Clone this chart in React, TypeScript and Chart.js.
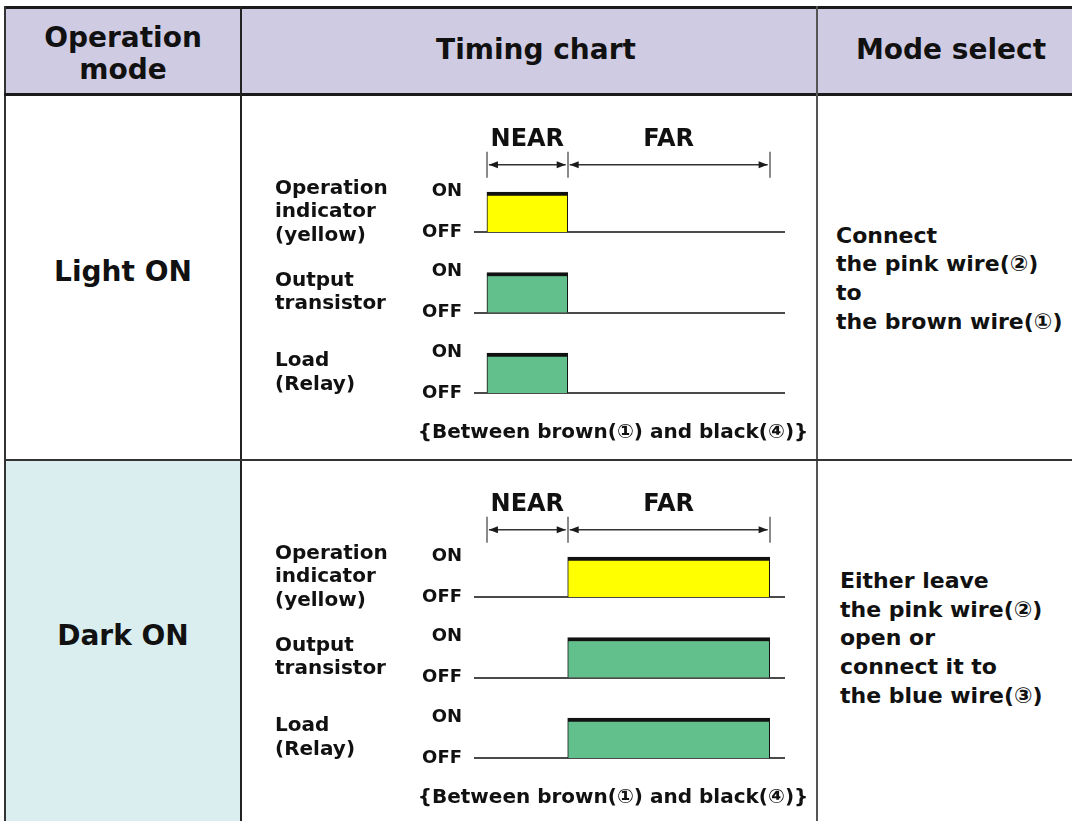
import React, { useEffect, useRef } from "react";
import { Chart, registerables } from "chart.js";

Chart.register(...registerables);

// ---- data ----
const headerLabels = ["Operation\nmode", "Timing chart", "Mode select"];
const modeLabels = ["Light ON", "Dark ON"];
const signalNames = [["Operation", "indicator", "(yellow)"], ["Output", "transistor"], ["Load", "(Relay)"]];
const stateLabels = ["ON", "OFF"];
const zoneLabels = ["NEAR", "FAR"];
const zoneBounds = [0, 1, 3.5];
const lightOnSpans = [[0, 1], [0, 1], [0, 1]];
const darkOnSpans = [[1, 3.5], [1, 3.5], [1, 3.5]];
const noteText = "{Between brown(①) and black(④)}";
const lightOnSelect = ["Connect", "the pink wire(②)", "to", "the brown wire(①)"];
const darkOnSelect = ["Either leave", "the pink wire(②)", "open or", "connect it to", "the blue wire(③)"];
const signalColors = ["#ffff00", "#62c08c", "#62c08c"];

const FONT = '"DejaVu Sans", "Liberation Sans", sans-serif';

function TimingChart({ spans, top }: { spans: number[][]; top: number }) {
  const ref = useRef<HTMLCanvasElement>(null);
  useEffect(() => {
    if (!ref.current) return;
    const drawArrow = (ctx: CanvasRenderingContext2D, x: number, y: number, dir: number) => {
      ctx.beginPath();
      ctx.moveTo(x, y);
      ctx.lineTo(x - dir * 9, y - 3.5);
      ctx.lineTo(x - dir * 9, y + 3.5);
      ctx.closePath();
      ctx.fill();
    };
    const plugin = {
      id: "timingDecor",
      beforeDatasetsDraw(chart: any) {
        const ctx = chart.ctx as CanvasRenderingContext2D;
        const area = chart.chartArea;
        const meta = chart.getDatasetMeta(0);
        ctx.save();
        meta.data.forEach((el: any) => {
          const p = el.getProps(["y", "height"], true);
          const yb = Math.round(p.y + p.height / 2);
          ctx.strokeStyle = "#4a4a4a";
          ctx.lineWidth = 2;
          ctx.beginPath();
          ctx.moveTo(area.left, yb);
          ctx.lineTo(area.right, yb);
          ctx.stroke();
        });
        ctx.restore();
      },
      afterDatasetsDraw(chart: any) {
        const ctx = chart.ctx as CanvasRenderingContext2D;
        const area = chart.chartArea;
        const xs = chart.scales.x;
        const meta = chart.getDatasetMeta(0);
        ctx.save();
        ctx.fillStyle = "#111";
        ctx.textBaseline = "middle";
        // signal names and ON/OFF
        meta.data.forEach((el: any, i: number) => {
          const p = el.getProps(["y", "height"], true);
          const yTop = p.y - p.height / 2;
          const yb = p.y + p.height / 2;
          ctx.font = `bold 18px ${FONT}`;
          ctx.textAlign = "right";
          ctx.fillText(stateLabels[0], area.left - 12, yTop - 1);
          ctx.fillText(stateLabels[1], area.left - 12, yb);
          const lines = signalNames[i];
          const lh = 23.5;
          ctx.font = `bold 20px ${FONT}`;
          ctx.textAlign = "left";
          lines.forEach((t, k) => {
            ctx.fillText(t, area.left - 199, p.y + (k - (lines.length - 1) / 2) * lh);
          });
        });
        // dimension line NEAR / FAR
        const yArrow = area.top - 7;
        ctx.strokeStyle = "#8a8a8a";
        ctx.lineWidth = 2;
        zoneBounds.forEach((b) => {
          const px = Math.round(xs.getPixelForValue(b));
          ctx.beginPath();
          ctx.moveTo(px, area.top - 20);
          ctx.lineTo(px, area.top + 6);
          ctx.stroke();
        });
        ctx.strokeStyle = "#333";
        ctx.lineWidth = 1.5;
        ctx.fillStyle = "#1a1a1a";
        for (let z = 0; z < zoneLabels.length; z++) {
          const a = xs.getPixelForValue(zoneBounds[z]);
          const b = xs.getPixelForValue(zoneBounds[z + 1]);
          ctx.beginPath();
          ctx.moveTo(a + 2, yArrow);
          ctx.lineTo(b - 2, yArrow);
          ctx.stroke();
          drawArrow(ctx, a + 2, yArrow, -1);
          drawArrow(ctx, b - 2, yArrow, 1);
          ctx.font = `bold 24px ${FONT}`;
          ctx.textAlign = "center";
          ctx.fillStyle = "#111";
          ctx.fillText(zoneLabels[z], (a + b) / 2, area.top - 32);
          ctx.fillStyle = "#1a1a1a";
        }
        // note
        ctx.font = `bold 20px ${FONT}`;
        ctx.textAlign = "center";
        ctx.fillStyle = "#111";
        ctx.fillText(noteText, area.left + 139, area.bottom + 20);
        ctx.restore();
      },
    };
    const chart = new Chart(ref.current, {
      type: "bar",
      data: {
        labels: signalNames.map((n) => n.join(" ")),
        datasets: [
          {
            data: spans as any,
            backgroundColor: signalColors,
            borderColor: "#111",
            borderWidth: { top: 4, left: 1, right: 1, bottom: 0 } as any,
            borderSkipped: false,
            barThickness: 40,
          },
        ],
      },
      options: {
        indexAxis: "y",
        animation: false,
        responsive: false,
        devicePixelRatio: 1,
        layout: { padding: { left: 231, right: 30, top: 76.75, bottom: 46.75 } },
        plugins: { legend: { display: false }, tooltip: { enabled: false }, title: { display: false } },
        scales: {
          x: { type: "linear", min: -0.16, max: 3.69, display: false },
          y: { type: "category", display: false, offset: true },
        },
      },
      plugins: [plugin],
    });
    return () => chart.destroy();
  }, [spans]);
  return (
    <canvas
      ref={ref}
      width={572}
      height={365}
      style={{ position: "absolute", left: 243, top, width: 572, height: 365 }}
    />
  );
}

export default function App() {
  const abs = (s: React.CSSProperties): React.CSSProperties => ({ position: "absolute", ...s });
  return (
    <div
      style={{
        position: "fixed",
        left: 0,
        top: 0,
        width: 1072,
        height: 821,
        overflow: "hidden",
        background: "#fff",
        fontFamily: FONT,
        fontWeight: "bold",
        color: "#111",
      }}
    >
      {/* backgrounds */}
      <div style={abs({ left: 5, top: 8, width: 1100, height: 87, background: "#cfcbe3" })} />
      <div style={abs({ left: 5, top: 460, width: 236, height: 400, background: "#daeef0" })} />
      {/* grid lines */}
      <div style={abs({ left: 4, top: 6, width: 1100, height: 3, background: "#1a1a1a" })} />
      <div style={abs({ left: 4, top: 6, width: 2, height: 900, background: "#333" })} />
      <div style={abs({ left: 4, top: 93, width: 1100, height: 3, background: "#1a1a1a" })} />
      <div style={abs({ left: 240, top: 6, width: 2, height: 900, background: "#222" })} />
      <div style={abs({ left: 816, top: 6, width: 2, height: 900, background: "#555" })} />
      <div style={abs({ left: 4, top: 459, width: 1100, height: 2, background: "#333" })} />

      {/* header texts */}
      <div style={abs({ left: 5, top: 22, width: 236, lineHeight: "32px", fontSize: 28, textAlign: "center", whiteSpace: "pre-line" })}>
        {headerLabels[0]}
      </div>
      <div style={abs({ left: 336, top: 34, width: 400, lineHeight: "32px", fontSize: 28, textAlign: "center" })}>
        {headerLabels[1]}
      </div>
      <div style={abs({ left: 851, top: 34, width: 200, lineHeight: "32px", fontSize: 28, textAlign: "center" })}>
        {headerLabels[2]}
      </div>

      {/* mode labels */}
      <div style={abs({ left: 5, top: 256, width: 236, lineHeight: "32px", fontSize: 28, textAlign: "center" })}>
        {modeLabels[0]}
      </div>
      <div style={abs({ left: 5, top: 620, width: 236, lineHeight: "32px", fontSize: 28, textAlign: "center" })}>
        {modeLabels[1]}
      </div>

      {/* timing charts */}
      <TimingChart spans={lightOnSpans} top={95} />
      <TimingChart spans={darkOnSpans} top={460} />

      {/* mode select texts */}
      <div style={abs({ left: 836, top: 221.6, lineHeight: "28.7px", fontSize: 22, whiteSpace: "nowrap" })}>
        {lightOnSelect.map((t, i) => (
          <div key={i}>{t}</div>
        ))}
      </div>
      <div style={abs({ left: 840, top: 567, lineHeight: "28.7px", fontSize: 22, whiteSpace: "nowrap" })}>
        {darkOnSelect.map((t, i) => (
          <div key={i}>{t}</div>
        ))}
      </div>
    </div>
  );
}
